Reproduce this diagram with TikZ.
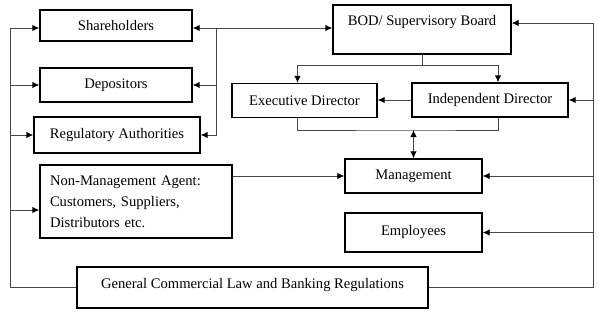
\documentclass[tikz,border=0pt]{standalone}
\usepackage{fontspec}
\setmainfont{Liberation Serif}
\usepackage{tikz}
\usetikzlibrary{arrows.meta}

\begin{document}
\begin{tikzpicture}[x=1pt, y=-1pt,
  box/.style={draw=black, line width=1.3pt, rectangle, inner sep=0pt,
    font=\fontsize{14.6}{21}\selectfont},
  link/.style={draw=black!72, line width=1pt},
  arr/.style={link, -{Latex[length=7pt,width=6.5pt,black]}},
  darr/.style={link, {Latex[length=7pt,width=6.5pt,black]}-{Latex[length=7pt,width=6.5pt,black]}}]
  \useasboundingbox (0,0) rectangle (598,314);

  \node[box, minimum width=152, minimum height=31] (sh) at (116,25.5) {Shareholders};
  \node[box, minimum width=152, minimum height=34] (dep) at (116,85) {Depositors};
  \node[box, minimum width=166, minimum height=36] (reg) at (117,135) {Regulatory Authorities};
  \node[box, minimum width=192, minimum height=73, align=left, text width=172] (nm) at (136,201.5)
    {Non-Management Agent:\\ Customers, Suppliers,\\ Distributors\ etc.};
  \node[box, minimum width=178, minimum height=49, text height=9pt, text depth=18pt] (bod) at (422,29.5)
    {BOD/ Supervisory Board};
  \node[box, minimum width=145, minimum height=34] (ed) at (304.5,100.5) {Executive Director};
  \node[box, minimum width=156, minimum height=34] (id) at (490,100) {Independent Director};
  \node[box, minimum width=137, minimum height=34] (mg) at (413.5,176) {Management};
  \node[box, minimum width=137, minimum height=39] (emp) at (413.5,232.5) {Employees};
  \node[box, minimum width=351, minimum height=41, text height=9pt, text depth=8pt] (gen) at (252.5,287.5)
    {General Commercial Law and Banking Regulations};

  \coordinate (lb) at (10,28);
  \coordinate (mb) at (216,28);
  \coordinate (rb) at (593,23);
  \coordinate (dj) at (413.5,130);
  \coordinate (nmin) at ([yshift=-8.5pt]nm.west);

  \draw[arr] (gen.west) -| (lb) -- (sh.west |- lb);
  \draw[arr] (lb |- dep.west) -- (dep.west);
  \draw[arr] (lb |- reg.west) -- (reg.west);
  \draw[arr] (lb |- nmin) -- (nmin);

  \draw[darr] (sh.east |- mb) -- (bod.west |- mb);
  \draw[arr] (mb) |- (dep.east);
  \draw[arr] (mb) |- (reg.east);

  \draw[link] (bod.south) -- ++(0,11) coordinate (bj);
  \draw[arr] (bj) -| ([xshift=-7pt]ed.north);
  \draw[arr] (bj) -| ([xshift=8pt]id.north);
  \draw[arr] (id.west) -- (ed.east |- id.west);
  \draw[link] ([xshift=-7pt]ed.south) |- (dj) -| ([xshift=8pt]id.south);
  \draw[darr] (dj) -- (mg.north);

  \draw[link] (gen.east) -| (rb);
  \draw[arr] (rb) -- (bod.east |- rb);
  \draw[arr] (rb |- id.east) -- (id.east);
  \draw[arr] (rb |- mg.east) -- (mg.east);
  \draw[arr] (rb |- emp.east) -- (emp.east);
  \draw[arr] (nm.east |- mg.west) -- (mg.west);
\end{tikzpicture}
\end{document}
